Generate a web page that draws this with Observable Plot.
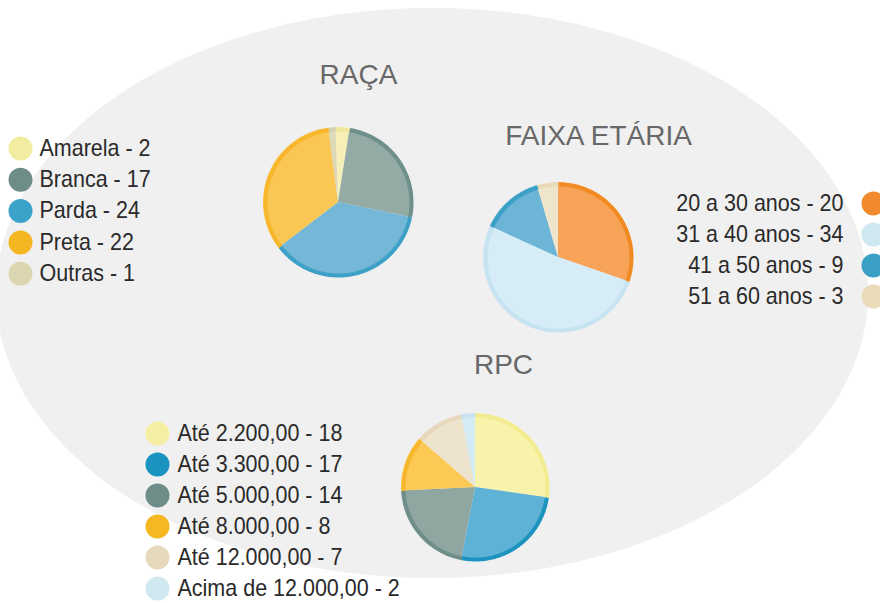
<!DOCTYPE html>
<html><head><meta charset="utf-8">
<script src="https://cdn.jsdelivr.net/npm/d3@7"></script>
<script src="https://cdn.jsdelivr.net/npm/@observablehq/plot@0.6"></script>
<style>body{margin:0;background:#fff;}</style>
</head><body><div id="chart"></div>
<script>
// ---- data ----
const racaLabels = ["Amarela", "Branca", "Parda", "Preta", "Outras"];
const racaValues = [2, 17, 24, 22, 1];
const faixaLabels = ["20 a 30 anos", "31 a 40 anos", "41 a 50 anos", "51 a 60 anos"];
const faixaValues = [20, 34, 9, 3];
const rpcLabels = ["Até 2.200,00", "Até 3.300,00", "Até 5.000,00", "Até 8.000,00", "Até 12.000,00", "Acima de 12.000,00"];
const rpcValues = [18, 17, 14, 8, 7, 2];
const titles = ["RAÇA", "FAIXA ETÁRIA", "RPC"];

// ---- styles ----
const racaFill = ["#f6f0b8", "#94aaa5", "#74b7d7", "#fac654", "#ddd8b8"];
const racaEdge = ["#f0e89a", "#6e908b", "#3da0c6", "#f6b72c", "#d6d0ac"];
const racaDot  = ["#f2eca0", "#6f8d88", "#3ba3c9", "#f5b721", "#dcd6b0"];
const faixaFill = ["#f8a458", "#d6ecf6", "#6cb5d7", "#efe5cc"];
const faixaEdge = ["#f28a22", "#c5e3f0", "#3aa0c6", "#e8d9b8"];
const faixaDot  = ["#f08a2c", "#cfe7f1", "#3a9fc5", "#e9dab8"];
const rpcFill = ["#f8f3aa", "#5eb2d6", "#8fa6a1", "#fbc954", "#eee3cd", "#d5ebf3"];
const rpcEdge = ["#f2ec90", "#1d93bf", "#6f8e89", "#f6b72c", "#e6d8bc", "#c8e4ee"];
const rpcDot  = ["#f4efa2", "#1b93c1", "#6e8d88", "#f5b820", "#e6d8ba", "#d0e8f0"];

const W = 880, H = 603;

// pie geometry (layout)
const pies = [
  {name: "raca", labels: racaLabels, values: racaValues, fill: racaFill, edge: racaEdge, cx: 338, cy: 202, r: 75, start: -2},
  {name: "faixa", labels: faixaLabels, values: faixaValues, fill: faixaFill, edge: faixaEdge, cx: 558, cy: 257, r: 75, start: 0},
  {name: "rpc", labels: rpcLabels, values: rpcValues, fill: rpcFill, edge: rpcEdge, cx: 475, cy: 487, r: 74, start: 0}
];

const wedges = [], edges = [];
for (const p of pies) {
  const s = p.start * Math.PI / 180;
  const arcs = d3.pie().sort(null).startAngle(s).endAngle(s + 2 * Math.PI)(p.values);
  arcs.forEach((a, i) => {
    const key = p.name + i;
    const n = Math.max(2, Math.ceil((a.endAngle - a.startAngle) / (Math.PI / 120)));
    for (let k = 0; k <= n; k++) {
      const t = a.startAngle + (a.endAngle - a.startAngle) * k / n;
      wedges.push({key, x1: p.cx + p.r * Math.sin(t), y1: p.cy - p.r * Math.cos(t), x2: p.cx, y2: p.cy, fill: p.fill[i]});
      const re = p.r - 2;
      edges.push({key, x: p.cx + re * Math.sin(t), y: p.cy - re * Math.cos(t), stroke: p.edge[i]});
    }
  });
}

// background ellipse
const ell = {cx: 432, cy: 293, rx: 436, ry: 285};
const ellipse = d3.range(0, 201).map(k => {
  const t = Math.PI - Math.PI * k / 200;
  return {x: ell.cx + ell.rx * Math.cos(t), y1: ell.cy - ell.ry * Math.sin(t), y2: ell.cy + ell.ry * Math.sin(t)};
});

// legends (layout)
const legends = [];
racaLabels.forEach((l, i) => legends.push({dx: 20, tx: 39, anchor: "start", y: 148 + i * 31.3, text: `${l} - ${racaValues[i]}`, fill: racaDot[i]}));
faixaLabels.forEach((l, i) => legends.push({dx: 873, tx: 843, anchor: "end", y: 203 + i * 31, text: `${l} - ${faixaValues[i]}`, fill: faixaDot[i]}));
rpcLabels.forEach((l, i) => legends.push({dx: 157, tx: 177, anchor: "start", y: 433 + i * 31, text: `${l} - ${rpcValues[i]}`, fill: rpcDot[i]}));

const titleRows = [
  {x: 358, y: 75, text: titles[0]},
  {x: 598, y: 136, text: titles[1]},
  {x: 503, y: 365, text: titles[2]}
];

const LEGEND_SIZE = 23;
const LEGEND_SQUEEZE = 0.935;

const chart = Plot.plot({
  width: W, height: H, margin: 0,
  x: {domain: [0, W], range: [0, W], axis: null},
  y: {domain: [0, H], range: [0, H], axis: null},
  color: {type: "identity"},
  style: {background: "white", fontFamily: "'Liberation Sans', Arial, sans-serif"},
  marks: [
    Plot.areaY(ellipse, {x: "x", y1: "y1", y2: "y2", fill: "#f0f0f0"}),
    Plot.area(wedges, {x1: "x1", y1: "y1", x2: "x2", y2: "y2", z: "key", fill: "fill"}),
    Plot.line(edges, {x: "x", y: "y", z: "key", stroke: "stroke", strokeWidth: 4, strokeLinecap: "butt"}),
    Plot.dot(legends, {x: "dx", y: "y", r: 12, fill: "fill"}),
    Plot.text(legends.filter(d => d.anchor === "start"), {x: "tx", y: "y", text: "text", textAnchor: "start", fontSize: LEGEND_SIZE, fill: "#2a2a2a"}),
    Plot.text(legends.filter(d => d.anchor === "end"), {x: "tx", y: "y", text: "text", textAnchor: "end", fontSize: LEGEND_SIZE, fill: "#2a2a2a"}),
    Plot.text(titleRows, {x: "x", y: "y", text: "text", fontSize: 28, fill: "#686868"})
  ]
});

// condense legend text horizontally (narrow typeface look), keeping it as real text
chart.querySelectorAll("g[aria-label='text']").forEach(g => {
  if (g.getAttribute("font-size") != String(LEGEND_SIZE)) return;
  g.querySelectorAll("text").forEach(t => {
    const tr = t.getAttribute("transform");
    if (tr) {
      t.setAttribute("transform", tr + ` scale(${LEGEND_SQUEEZE},1)`);
    } else {
      const x = t.getAttribute("x") || 0, y = t.getAttribute("y") || 0;
      t.removeAttribute("x"); t.removeAttribute("y");
      t.setAttribute("transform", `translate(${x},${y}) scale(${LEGEND_SQUEEZE},1)`);
    }
  });
});
document.getElementById("chart").appendChild(chart);
</script>
</body></html>
